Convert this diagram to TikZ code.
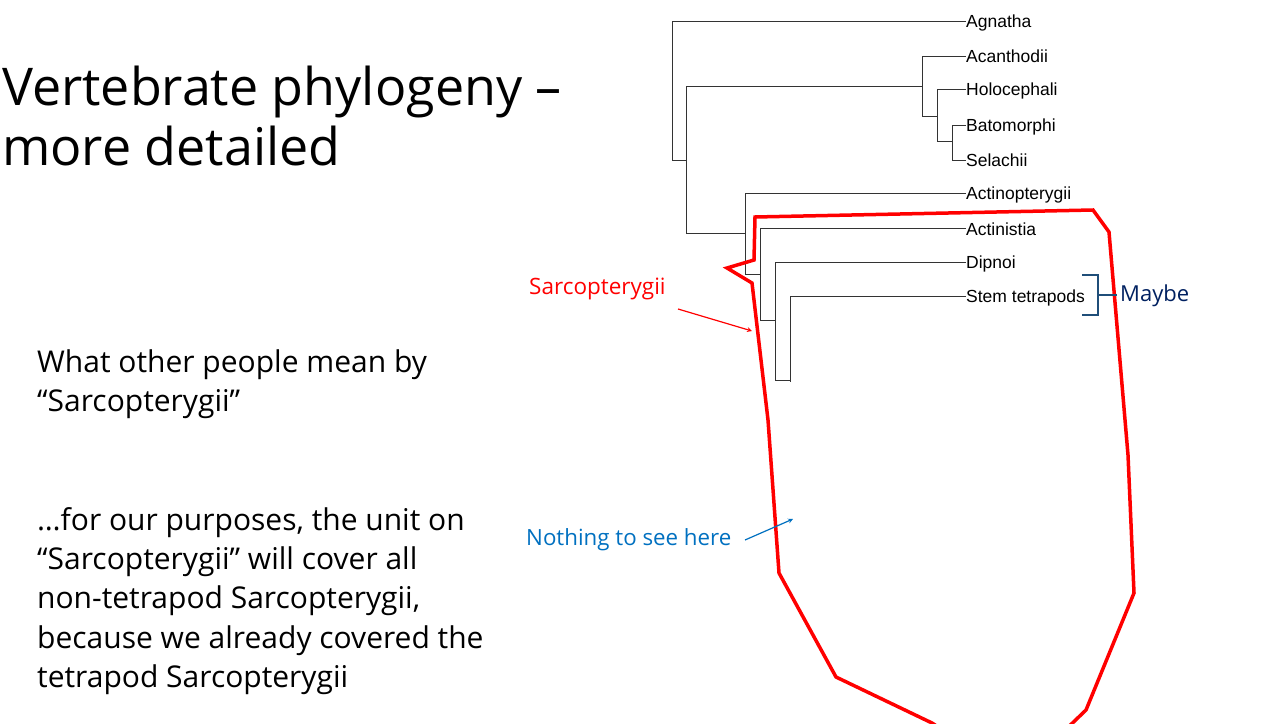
\documentclass[tikz,border=0pt]{standalone}
\usepackage{fontspec}
\setmainfont{Open Sans}
\newfontfamily\arialf{Liberation Sans}
\definecolor{brk}{RGB}{31,78,121}
\definecolor{navy}{RGB}{0,32,96}
\definecolor{nblue}{RGB}{0,112,192}
\begin{document}
\begin{tikzpicture}[x=1pt,y=-1pt,
  br/.style={draw=black!80,line width=0.8pt},
  tx/.style={anchor=base west,inner sep=0pt,font=\arialf\fontsize{17.5}{20}\selectfont},
  body/.style={anchor=base west,inner sep=0pt,font=\fontsize{30}{39}\selectfont},
  ttl/.style={anchor=base west,inner sep=0pt,font=\fontsize{52}{58}\selectfont},
  redl/.style={draw=red,line width=3.5pt,line join=miter}]
\useasboundingbox (0,0) rectangle (1261,723);
\clip (0,0) rectangle (1261,723);
% labels
\node[tx] (ag) at (966,27) {Agnatha};
\node[tx] (ac) at (966,62) {Acanthodii};
\node[tx] (ho) at (966,95) {Holocephali};
\node[tx] (ba) at (966,131) {Batomorphi};
\node[tx] (se) at (966,166) {Selachii};
\node[tx] (at) at (966,199) {Actinopterygii};
\node[tx] (an) at (966,235) {Actinistia};
\node[tx] (di) at (966,268) {Dipnoi};
\node[tx] (st) at (966,302) {Stem tetrapods};
% tree
\draw[br] (966,21) -- (672,21) -- (672,160) -- (686,160);
\draw[br] (686,86) -- (686,233);
\draw[br] (686,86) -- (922,86); \draw[br] (922,56) -- (922,116);
\draw[br] (922,56) -- (966,56); \draw[br] (922,116) -- (937,116);
\draw[br] (937,89) -- (937,141); \draw[br] (937,89) -- (966,89);
\draw[br] (937,141) -- (952,141); \draw[br] (952,125) -- (952,160);
\draw[br] (952,125) -- (966,125); \draw[br] (952,160) -- (966,160);
\draw[br] (686,233) -- (745,233); \draw[br] (745,193) -- (745,274);
\draw[br] (745,193) -- (966,193); \draw[br] (745,274) -- (760,274);
\draw[br] (760,228) -- (760,320); \draw[br] (760,228) -- (966,228);
\draw[br] (760,320) -- (775,320); \draw[br] (775,262) -- (775,380);
\draw[br] (775,262) -- (966,262); \draw[br] (775,380) -- (790,380);
\draw[br] (790,296) -- (790,382); \draw[br] (790,296) -- (966,296);
% red outline
\draw[redl] (755,217) -- (1093,210) -- (1109,232) -- (1128,455) -- (1134,593) -- (1086,710) -- (1060,735) -- (950,735) -- (932,723) -- (836,677) -- (779,573) -- (768,420) -- (752,283) -- (727,268) -- (754,260) -- cycle;
% bracket
\draw[draw=brk,line width=1.5pt] (1082,275) -- (1098,275) -- (1098,315) -- (1082,315) (1098,295) -- (1117,295);
\node[anchor=west,inner sep=0pt,text=navy,font=\fontsize{22}{26}\selectfont] (mb) at (1120,296) {Maybe};
% annotations
\node[anchor=west,inner sep=0pt,text=red,font=\fontsize{22.5}{26}\selectfont] (sl) at (529,289) {Sarcopterygii};
\coordinate (sa) at (752,331);
\draw[red,line width=1.2pt,-stealth] (678,309) -- (sa);
\node[anchor=west,inner sep=0pt,text=nblue,font=\fontsize{22.3}{26}\selectfont] (nl) at (526,540) {Nothing to see here};
\coordinate (na) at (793,519);
\draw[nblue,line width=1.2pt,-stealth] (745,540) -- (na);
% title and body
\node[ttl] (t1) at (2,105) {Vertebrate phylogeny –};
\node[ttl] (t2) at (2,165) {more detailed};
\node[body] (b1) at (37,372) {What other people mean by};
\node[body] (b2) at (37,411) {“Sarcopterygii”};
\node[body] (c1) at (37,530) {…for our purposes, the unit on};
\node[body] (c2) at (37,569) {“Sarcopterygii” will cover all};
\node[body] (c3) at (37,608) {non-tetrapod Sarcopterygii,};
\node[body] (c4) at (37,648) {because we already covered the};
\node[body] (c5) at (37,687) {tetrapod Sarcopterygii};
\end{tikzpicture}
\end{document}
